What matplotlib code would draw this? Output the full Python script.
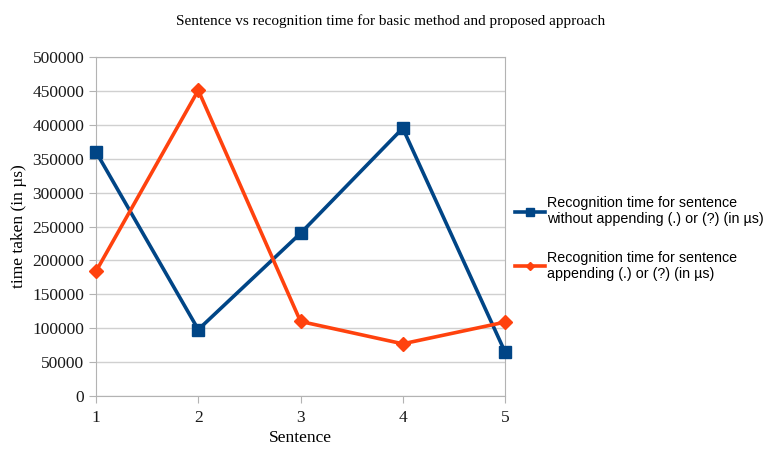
import matplotlib
matplotlib.use('Agg')
import matplotlib.pyplot as plt

sentences = [1, 2, 3, 4, 5]
time_without = [360000, 98000, 240000, 395000, 65000]
time_with = [184000, 451000, 110000, 77000, 109000]
yticks = list(range(0, 500001, 50000))

blue = '#004586'
orange = '#ff420e'

fig = plt.figure(figsize=(7.82, 4.49), dpi=100)
ax = fig.add_axes([0.1228, 0.118, 0.5230, 0.755])

ax.plot(sentences, time_without, color=blue, lw=2.6, marker='s', ms=9, clip_on=False, zorder=3,
        label='Recognition time for sentence\nwithout appending (.) or (?) (in µs)')
ax.plot(sentences, time_with, color=orange, lw=2.6, marker='D', ms=7, clip_on=False, zorder=3,
        label='Recognition time for sentence\nappending (.) or (?) (in µs)')

ax.set_xlim(1, 5)
ax.set_ylim(0, 500000)
ax.set_xticks(sentences)
ax.set_yticks(yticks)
ax.yaxis.grid(True, color='#d0d0d0', lw=1)
ax.set_axisbelow(True)
for s in ax.spines.values():
    s.set_color('#b3b3b3')
ax.tick_params(colors='#b3b3b3', labelcolor='#1a1a1a', length=5, labelsize=12.5)
for lbl in ax.get_xticklabels() + ax.get_yticklabels():
    lbl.set_family('Liberation Serif')
ax.tick_params(axis='x', pad=5)

ax.set_xlabel('Sentence', family='Liberation Serif', fontsize=12.5, labelpad=3)
ax.set_ylabel('time taken (in µs)', family='Liberation Serif', fontsize=12.5, labelpad=4)
fig.text(0.5, 0.952, 'Sentence vs recognition time for basic method and proposed approach',
         ha='center', va='center', family='Liberation Serif', fontsize=11)

leg = ax.legend(loc='center left', bbox_to_anchor=(1.0, 0.465), frameon=False,
                prop={'family': 'Liberation Sans', 'size': 10.3},
                handlelength=2.1, handletextpad=0.15, labelspacing=1.7, borderaxespad=0.3,
                markerscale=0.65)

fig.savefig('out.png', dpi=100)
